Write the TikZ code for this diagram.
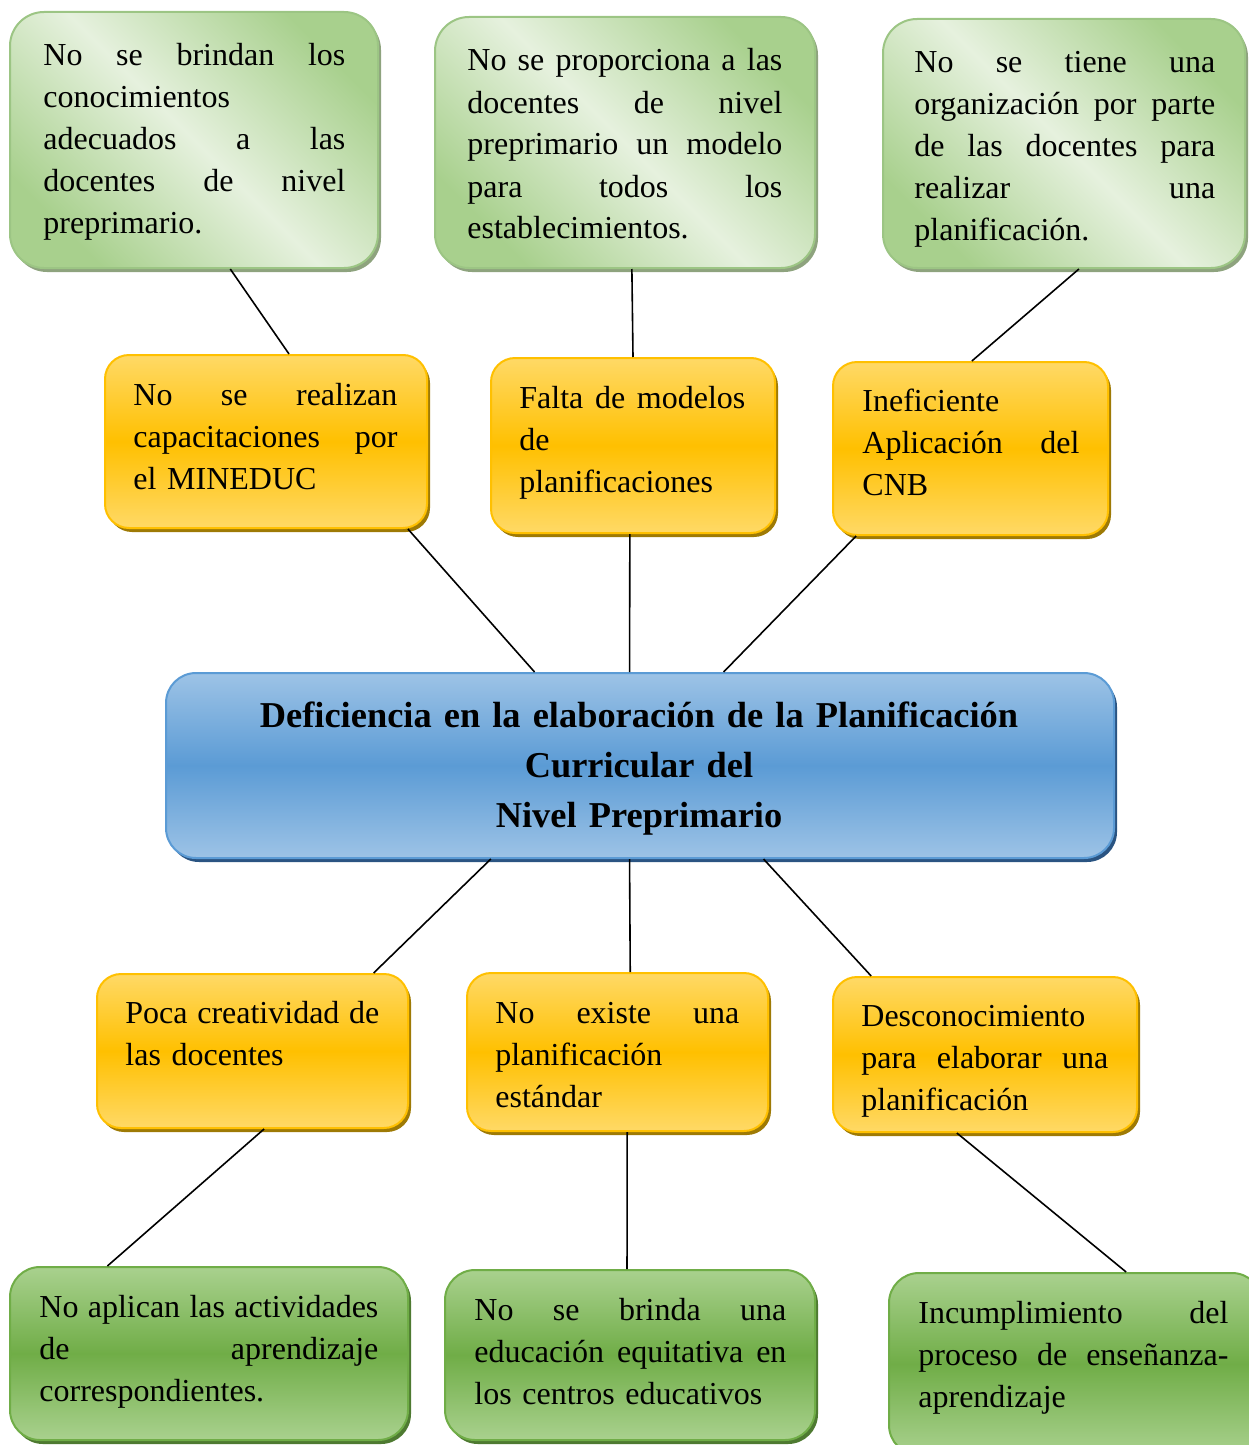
\documentclass[tikz,border=0pt]{standalone}
\usepackage{fontspec}
\setmainfont{Liberation Serif}
\usetikzlibrary{shadows,fit,calc}
\definecolor{tgDark}{HTML}{A8D08D}
\definecolor{tgLight}{HTML}{E6F1DE}
\definecolor{tgBorder}{HTML}{9CC584}
\definecolor{tgShadow}{HTML}{8EA37E}
\definecolor{yL}{HTML}{FFD966}
\definecolor{yM}{HTML}{FFC000}
\definecolor{yShadow}{HTML}{9E7A05}
\definecolor{bL}{HTML}{9DC3E6}
\definecolor{bM}{HTML}{5B9BD5}
\definecolor{bShadow}{HTML}{2A5482}
\definecolor{gL}{HTML}{A9D18E}
\definecolor{gM}{HTML}{70AD47}
\definecolor{gShadow}{HTML}{4E7A31}
\newcommand\jl[1]{\leavevmode\hbox to \hsize{\spaceskip=0.25em plus 10em minus 0.05em #1}}
\begin{document}
\begin{tikzpicture}[x=0.5pt,y=-0.5pt,
  box/.style={inner sep=0pt, line width=1pt},
  tgreen/.style={box, rounded corners=17pt, draw=tgBorder,
    left color=tgDark, right color=tgDark, middle color=tgLight, shading angle=-45,
    drop shadow={shadow xshift=1.5pt, shadow yshift=-2pt, fill=tgShadow, opacity=1}},
  ybox/.style={box, rounded corners=12pt, draw=yM,
    top color=yL, bottom color=yL, middle color=yM,
    drop shadow={shadow xshift=1.5pt, shadow yshift=-2pt, fill=yShadow, opacity=1}},
  bbox/.style={box, rounded corners=15pt, draw=bM,
    top color=bL, bottom color=bL, middle color=bM,
    drop shadow={shadow xshift=1.5pt, shadow yshift=-2pt, fill=bShadow, opacity=1}},
  gbox/.style={box, rounded corners=15pt, draw=gM,
    top color=gL, bottom color=gL, middle color=gM,
    drop shadow={shadow xshift=1.5pt, shadow yshift=-2pt, fill=gShadow, opacity=1}},
  txt/.style={anchor=base west, inner sep=0pt, align=left,
    font=\fontsize{16}{21}\selectfont},
  link/.style={line width=0.8pt, black}]
\useasboundingbox (0,0) rectangle (1248,1445);
% top green
\node[tgreen, fit={(10,12) (378,268)}] (g1) {};
\node[tgreen, fit={(435,17) (815,268)}] (g2) {};
\node[tgreen, fit={(883,19) (1245,268)}] (g3) {};
% yellow upper
\node[ybox, fit={(105,355) (427,528)}] (y1) {};
\node[ybox, fit={(491,358) (775,533)}] (y2) {};
\node[ybox, fit={(833,362) (1108,535)}] (y3) {};
% center
\node[bbox, fit={(166,673) (1114,858)}] (c) {};
% yellow lower
\node[ybox, fit={(97,974) (408,1128)}] (y4) {};
\node[ybox, fit={(467,973) (768,1131)}] (y5) {};
\node[ybox, fit={(833,977) (1137,1132)}] (y6) {};
% bottom green
\node[gbox, fit={(10,1267) (408,1440)}] (g4) {};
\node[gbox, fit={(445,1270) (815,1440)}] (g5) {};
\node[gbox, fit={(889,1273) (1262,1455)}] (g6) {};
% texts
\node[txt, text width=151pt] (g1t) at (43,66) {\jl{No se brindan los}\\conocimientos\\\jl{adecuados a las}\\\jl{docentes de nivel}\\preprimario.};
\node[txt, text width=157.5pt] (g2t) at (467,71) {\jl{No se proporciona a las}\\\jl{docentes de nivel}\\\jl{preprimario un modelo}\\\jl{para todos los}\\establecimientos.};
\node[txt, text width=150.5pt] (g3t) at (914,73) {\jl{No se tiene una}\\\jl{organización por parte}\\\jl{de las docentes para}\\\jl{realizar una}\\planificación.};
\node[txt, text width=132pt] (y1t) at (133,405) {\jl{No se realizan}\\\jl{capacitaciones por}\\el MINEDUC};
\node[txt, text width=113pt] (y2t) at (519,408) {\jl{Falta de modelos}\\de\\planificaciones};
\node[txt, text width=108.5pt] (y3t) at (862,411) {Ineficiente\\\jl{Aplicación del}\\CNB};
\node[anchor=base, inner sep=0pt, text width=470pt, align=center,
  font=\fontsize{18.2}{25}\selectfont\bfseries] (ct) at (639,727)
  {Deficiencia en la elaboración de la Planificación\\Curricular del\\Nivel Preprimario};
\node[txt, text width=127pt] (y4t) at (125,1023) {\jl{Poca creatividad de}\\las docentes};
\node[txt, text width=122pt] (y5t) at (495,1023) {\jl{No existe una}\\planificación\\estándar};
\node[txt, text width=123.5pt] (y6t) at (861,1026) {Desconocimiento\\\jl{para elaborar una}\\planificación};
\node[txt, text width=169.5pt] (g4t) at (39,1317) {\jl{No aplican las actividades}\\\jl{de aprendizaje}\\correspondientes.};
\node[txt, text width=156pt] (g5t) at (474,1320) {\jl{No se brinda una}\\\jl{educación equitativa en}\\los centros educativos};
\node[txt, text width=155pt] (g6t) at (918,1323) {\jl{Incumplimiento del}\\\jl{proceso de enseñanza-}\\aprendizaje};
% connectors
\draw[link] ($(g1.south west)!0.598!(g1.south east)$) -- ($(y1.north west)!0.571!(y1.north east)$);
\draw[link] ($(g2.south west)!0.518!(g2.south east)$) -- ($(y2.north west)!0.500!(y2.north east)$);
\draw[link] ($(g3.south west)!0.541!(g3.south east)$) -- ($(y3.north west)!0.505!(y3.north east)$);
\draw[link] ($(y1.south west)!0.938!(y1.south east)$) -- ($(c.north west)!0.389!(c.north east)$);
\draw[link] ($(y2.south west)!0.489!(y2.south east)$) -- ($(c.north west)!0.489!(c.north east)$);
\draw[link] ($(y3.south west)!0.087!(y3.south east)$) -- ($(c.north west)!0.588!(c.north east)$);
\draw[link] ($(c.south west)!0.343!(c.south east)$) -- ($(y4.north west)!0.887!(y4.north east)$);
\draw[link] ($(c.south west)!0.489!(c.south east)$) -- ($(y5.north west)!0.542!(y5.north east)$);
\draw[link] ($(c.south west)!0.630!(c.south east)$) -- ($(y6.north west)!0.128!(y6.north east)$);
\draw[link] ($(y4.south west)!0.537!(y4.south east)$) -- ($(g4.north west)!0.246!(g4.north east)$);
\draw[link] ($(y5.south west)!0.532!(y5.south east)$) -- ($(g5.north west)!0.492!(g5.north east)$);
\draw[link] ($(y6.south west)!0.408!(y6.south east)$) -- ($(g6.north west)!0.635!(g6.north east)$);
\end{tikzpicture}
\end{document}
